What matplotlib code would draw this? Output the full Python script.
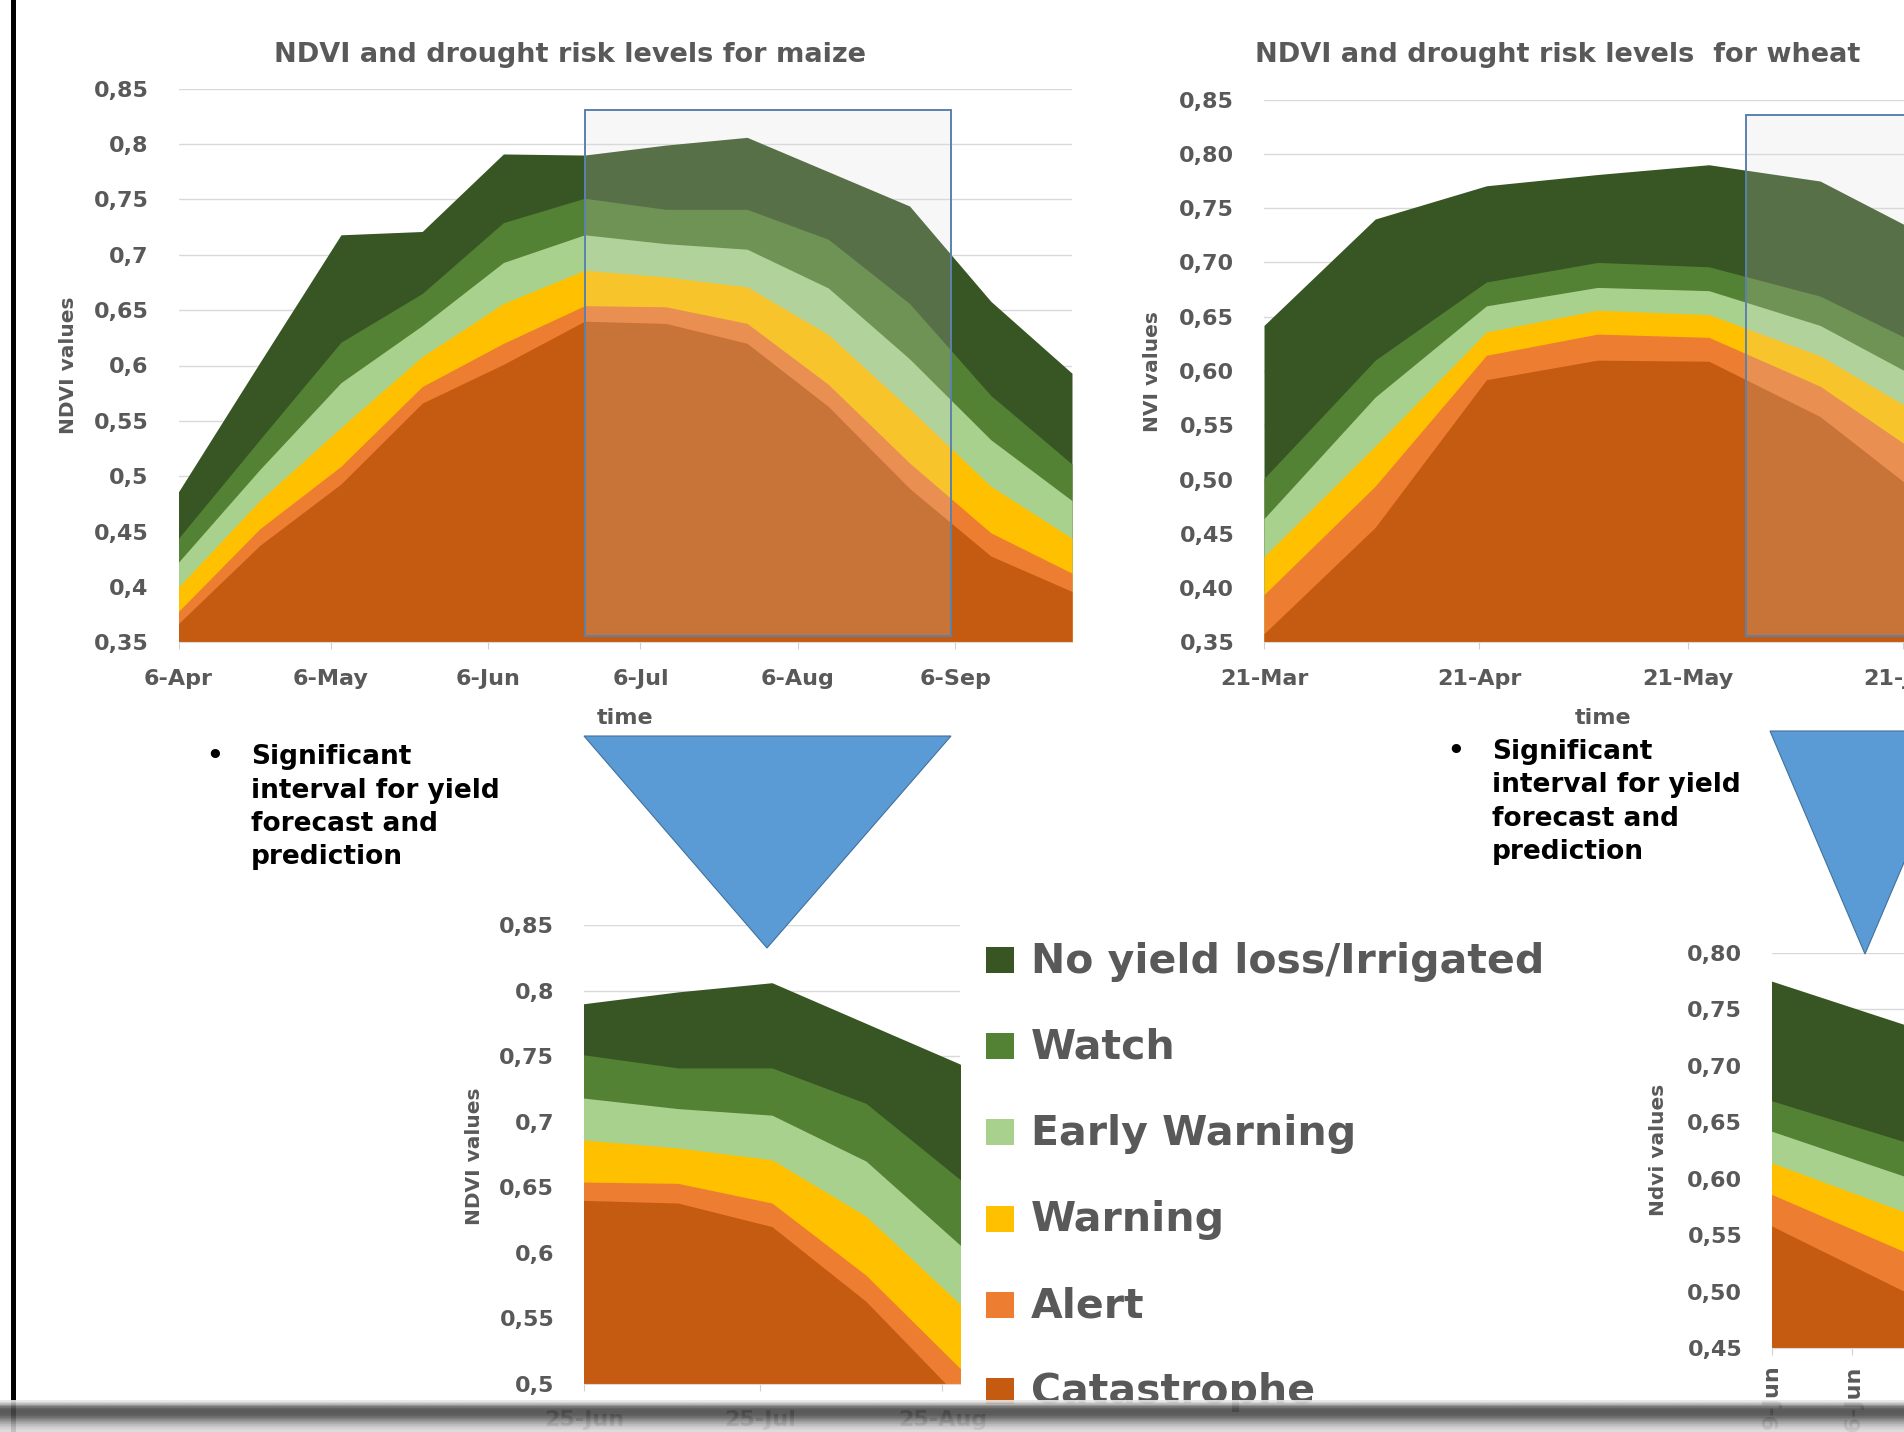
import numpy as np
import matplotlib
matplotlib.use("Agg")
import matplotlib.pyplot as plt
from matplotlib.patches import Rectangle, Polygon
from matplotlib.lines import Line2D

W, H = 1904, 1432

# risk levels, from the bottom of the stack to the top
level_names = ["Catastrophe", "Alert", "Warning", "Early Warning", "Watch", "No yield loss/Irrigated"]
level_colors = ["#C55A11", "#ED7D31", "#FFC000", "#A9D18E", "#548235", "#375623"]

# maize: day of year of each 16-day NDVI composite and the upper NDVI of each level
maize_days = [96, 112, 128, 144, 160, 176, 192, 208, 224, 240, 256, 272]
maize_catastrophe = [0.367, 0.4375, 0.493, 0.566, 0.601, 0.640, 0.638, 0.620, 0.563, 0.489, 0.428, 0.396]
maize_alert = [0.378, 0.4525, 0.509, 0.581, 0.620, 0.654, 0.653, 0.638, 0.583, 0.512, 0.449, 0.4125]
maize_warning = [0.400, 0.478, 0.544, 0.608, 0.656, 0.686, 0.680, 0.671, 0.628, 0.561, 0.491, 0.444]
maize_early = [0.4225, 0.506, 0.5845, 0.636, 0.693, 0.718, 0.710, 0.705, 0.670, 0.606, 0.533, 0.478]
maize_watch = [0.444, 0.533, 0.621, 0.665, 0.729, 0.751, 0.741, 0.741, 0.714, 0.656, 0.573, 0.511]
maize_noloss = [0.486, 0.6025, 0.718, 0.721, 0.791, 0.790, 0.799, 0.806, 0.775, 0.744, 0.658, 0.593]

# wheat
wheat_days = [80, 96, 112, 128, 144, 160, 176]
wheat_catastrophe = [0.358, 0.456, 0.592, 0.610, 0.609, 0.558, 0.478]
wheat_alert = [0.394, 0.494, 0.6145, 0.634, 0.631, 0.586, 0.516]
wheat_warning = [0.429, 0.531, 0.636, 0.656, 0.652, 0.614, 0.554]
wheat_early = [0.464, 0.576, 0.660, 0.677, 0.674, 0.642, 0.587]
wheat_watch = [0.501, 0.610, 0.682, 0.700, 0.696, 0.669, 0.619]
wheat_noloss = [0.642, 0.740, 0.7706, 0.781, 0.790, 0.775, 0.722]

maize_levels = [maize_catastrophe, maize_alert, maize_warning, maize_early, maize_watch, maize_noloss]
wheat_levels = [wheat_catastrophe, wheat_alert, wheat_warning, wheat_early, wheat_watch, wheat_noloss]

# axis ticks
maize_xticks = [96, 126, 157, 187, 218, 249]
maize_xlabels = ["6-Apr", "6-May", "6-Jun", "6-Jul", "6-Aug", "6-Sep"]
wheat_xticks = [80, 111, 141, 172, 202]
wheat_xlabels = ["21-Mar", "21-Apr", "21-May", "21-Jun", "21-Jul"]
zoom_maize_xticks = [176, 206, 237]
zoom_maize_xlabels = ["25-Jun", "25-Jul", "25-Aug"]
zoom_wheat_xticks = [160, 167, 174, 181, 188]
zoom_wheat_xlabels = ["9-Jun", "16-Jun", "23-Jun", "30-Jun", "7-Jul"]

maize_yticks = [0.35, 0.4, 0.45, 0.5, 0.55, 0.6, 0.65, 0.7, 0.75, 0.8, 0.85]
maize_ylabels = ["0,35", "0,4", "0,45", "0,5", "0,55", "0,6", "0,65", "0,7", "0,75", "0,8", "0,85"]
wheat_yticks = maize_yticks
wheat_ylabels = ["0,35", "0,40", "0,45", "0,50", "0,55", "0,60", "0,65", "0,70", "0,75", "0,80", "0,85"]
zoom_maize_yticks = maize_yticks[3:]
zoom_maize_ylabels = maize_ylabels[3:]
zoom_wheat_yticks = [0.45, 0.5, 0.55, 0.6, 0.65, 0.7, 0.75, 0.8]
zoom_wheat_ylabels = ["0,45", "0,50", "0,55", "0,60", "0,65", "0,70", "0,75", "0,80"]

# highlighted interval (day, NDVI) boxes
maize_box = (176, 248.2, 0.3555, 0.831)
wheat_box = (149.4, 260, 0.3558, 0.836)

bullet_lines = ["Significant", "interval for yield", "forecast and", "prediction"]

plt.rcParams["font.family"] = ["DejaVu Sans"]
GREY = "#595959"

fig = plt.figure(figsize=(W / 100, H / 100), dpi=100)


def axes_px(left, top, right, bottom):
    ax = fig.add_axes([left / W, 1 - bottom / H, (right - left) / W, (bottom - top) / H])
    ax.set_facecolor("none")
    return ax


def ftext(x, y, s, **kw):
    return fig.text(x / W, 1 - y / H, s, **kw)


def draw_levels(ax, days, levels):
    # paint from the top level down so neighbouring bands share edges without seams
    for top, color in reversed(list(zip(levels, level_colors))):
        ax.fill_between(days, 0, top, color=color, lw=0)


def style(ax, xlim, ylim, xticks, xlabels, yticks, ylabels, rot=0, xpad=14):
    ax.set_xlim(*xlim)
    ax.set_ylim(*ylim)
    ax.set_yticks(yticks, ylabels)
    ax.set_xticks(xticks, xlabels, rotation=rot)
    ax.grid(axis="y", color="#d9d9d9", lw=1)
    ax.set_axisbelow(True)
    for s in ["top", "right", "left"]:
        ax.spines[s].set_visible(False)
    ax.spines["bottom"].set_color("#d9d9d9")
    ax.tick_params(axis="y", length=0, pad=21.5)
    ax.tick_params(axis="x", length=5, color="#d0d0d0", pad=xpad)
    for lab in ax.get_xticklabels() + ax.get_yticklabels():
        lab.set_fontsize(16)
        lab.set_fontweight("bold")
        lab.set_color(GREY)


def add_box(ax, box):
    x0, x1, y0, y1 = box
    ax.add_patch(Rectangle((x0, y0), x1 - x0, y1 - y0, facecolor=(0.85, 0.85, 0.85, 0.2),
                           edgecolor="#5a82ad", lw=1.4, zorder=3))


# main maize chart
ax1 = axes_px(178.5, 88.6, 1072, 642.4)
draw_levels(ax1, maize_days, maize_levels)
style(ax1, (96, 272), (0.35, 0.85), maize_xticks, maize_xlabels, maize_yticks, maize_ylabels)
add_box(ax1, maize_box)

# main wheat chart (runs past the right edge of the page)
ax2 = axes_px(1264, 99.6, 2112, 642.4)
draw_levels(ax2, wheat_days, wheat_levels)
style(ax2, (80, 200), (0.35, 0.85), wheat_xticks, wheat_xlabels, wheat_yticks, wheat_ylabels)
add_box(ax2, wheat_box)

# zoomed maize interval
ax3 = axes_px(584, 925, 960, 1384)
draw_levels(ax3, maize_days, maize_levels)
style(ax3, (176, 240), (0.5, 0.85), zoom_maize_xticks, zoom_maize_xlabels,
      zoom_maize_yticks, zoom_maize_ylabels)

# zoomed wheat interval
ax4 = axes_px(1772, 953, 2138, 1348)
draw_levels(ax4, wheat_days, wheat_levels)
style(ax4, (160, 192), (0.45, 0.80), zoom_wheat_xticks, zoom_wheat_xlabels,
      zoom_wheat_yticks, zoom_wheat_ylabels, rot=90, xpad=7)

# titles and axis labels
ftext(570, 54.5, "NDVI and drought risk levels for maize", ha="center", va="center",
      fontsize=19.5, fontweight="bold", color=GREY)
ftext(1558, 54.5, "NDVI and drought risk levels  for wheat", ha="center", va="center",
      fontsize=19.5, fontweight="bold", color=GREY)
lab_kw = dict(ha="center", va="center", rotation=90, fontsize=14.5, fontweight="bold", color=GREY)
ftext(69, 365, "NDVI values", **lab_kw)
ftext(1153, 372, "NVI values", **lab_kw)
ftext(474, 1156, "NDVI values", **lab_kw)
ftext(1658, 1150, "Ndvi values", **lab_kw)
ftext(625, 718.5, "time", ha="center", va="center", fontsize=16, fontweight="bold", color=GREY)
ftext(1603, 718.5, "time", ha="center", va="center", fontsize=16, fontweight="bold", color=GREY)

# bullet notes
for bx, tx, y0 in [(215, 251, 757), (1456, 1492, 752)]:
    ftext(bx, y0, "•", ha="center", va="center", fontsize=19, fontweight="bold", color="black")
    for i, line in enumerate(bullet_lines):
        ftext(tx, y0 + i * 33.5, line, ha="left", va="center", fontsize=19,
              fontweight="bold", color="black")

# arrows pointing to the zoomed charts
tri_kw = dict(closed=True, facecolor="#5B9BD5", edgecolor="#41719C", lw=0.8,
              transform=fig.transFigure, zorder=4)
fig.add_artist(Polygon([(584 / W, 1 - 736 / H), (951 / W, 1 - 736 / H), (767 / W, 1 - 948 / H)], **tri_kw))
fig.add_artist(Polygon([(1770 / W, 1 - 731 / H), (1960 / W, 1 - 731 / H), (1865 / W, 1 - 954 / H)], **tri_kw))

# legend
for i, name in enumerate(reversed(level_names)):
    y = 960 + i * 86.2
    color = level_colors[len(level_names) - 1 - i]
    fig.add_artist(Rectangle((986 / W, 1 - (y + 13) / H), 28 / W, 26 / H, facecolor=color,
                             lw=0, transform=fig.transFigure))
    ftext(1031, y + 1.5, name, ha="left", va="center", fontsize=29.5, fontweight="bold", color=GREY)

# page frame: black left border and grey bottom edge
fig.add_artist(Line2D([12.5 / W, 12.5 / W], [0, 1], color="black", lw=3.6, transform=fig.transFigure))
band = fig.add_axes([0, 0, 1, 32 / H], zorder=10)
band.axis("off")
shade = np.array([0.9, 0.7, 0.42, 0.3, 0.28, 0.3, 0.38, 0.5, 0.62, 0.72, 0.8, 0.85])[:, None]
band.imshow(shade, cmap="gray", vmin=0, vmax=1, aspect="auto", extent=[0, 1, 0, 1], alpha=0.9)

fig.savefig("out.png", dpi=100)
